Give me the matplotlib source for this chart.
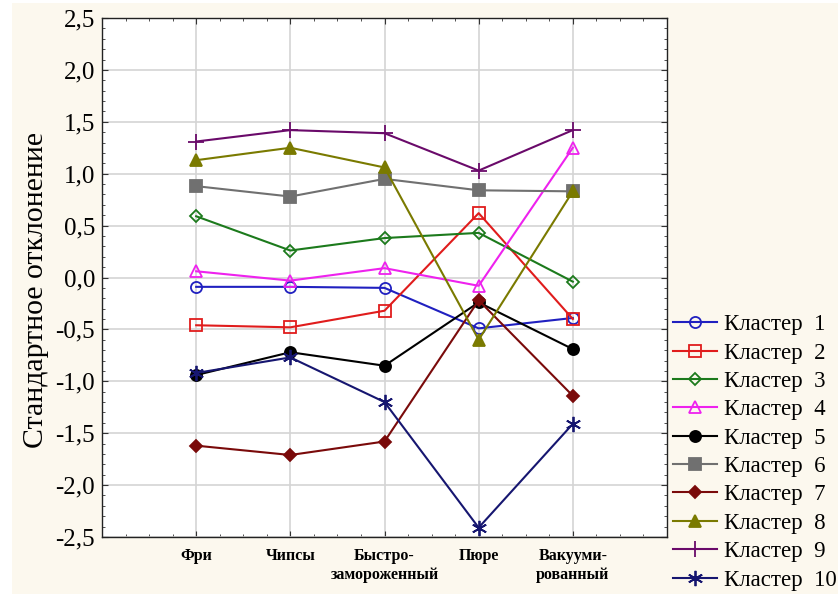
import numpy as np
import matplotlib
matplotlib.use("Agg")
import matplotlib.pyplot as plt
from matplotlib.ticker import MultipleLocator, FixedLocator, FuncFormatter
from matplotlib.patches import Rectangle

categories = ["Фри", "Чипсы", "Быстро-\nзамороженный", "Пюре", "Вакууми-\nрованный"]

cluster_1 = [-0.09, -0.09, -0.10, -0.49, -0.39]
cluster_2 = [-0.46, -0.48, -0.32, 0.62, -0.40]
cluster_3 = [0.59, 0.26, 0.38, 0.43, -0.04]
cluster_4 = [0.06, -0.03, 0.09, -0.08, 1.25]
cluster_5 = [-0.94, -0.72, -0.85, -0.24, -0.69]
cluster_6 = [0.88, 0.78, 0.95, 0.84, 0.83]
cluster_7 = [-1.62, -1.71, -1.58, -0.22, -1.14]
cluster_8 = [1.13, 1.25, 1.06, -0.60, 0.83]
cluster_9 = [1.31, 1.42, 1.39, 1.03, 1.42]
cluster_10 = [-0.92, -0.77, -1.20, -2.41, -1.41]

series = [cluster_1, cluster_2, cluster_3, cluster_4, cluster_5,
          cluster_6, cluster_7, cluster_8, cluster_9, cluster_10]
labels = ["Кластер  %d" % (i + 1) for i in range(10)]

# colour, marker, filled
styles = [
    ("#2020c0", "o", False),
    ("#e01c1c", "s", False),
    ("#1c7a1c", "D", False),
    ("#ee22ee", "^", False),
    ("#000000", "o", True),
    ("#707070", "s", True),
    ("#7a0a0a", "D", True),
    ("#7a7a00", "^", True),
    ("#6a0a6a", "+", True),
    ("#161670", (6, 2, 0), True),
]

cream = "#fcf8ee"
plt.rcParams['font.family'] = ['Liberation Serif', 'DejaVu Serif']

fig = plt.figure(figsize=(8.38, 5.94), dpi=100, facecolor="white")
fig.patches.append(Rectangle((12 / 838, 0), 1, 1 - 3 / 594, transform=fig.transFigure,
                             facecolor=cream, edgecolor="none", zorder=-10))

ax = fig.add_axes([102 / 838, 57 / 594, 565 / 838, 519 / 594])
ax.set_facecolor("white")

x = np.arange(1, len(categories) + 1)
for vals, lab, (col, mk, filled) in zip(series, labels, styles):
    size = 8
    if mk == "D":
        size = 6.5
    if mk in ("+", (6, 2, 0)):
        size = 11
    ax.plot(x, vals, color=col, lw=1.5, marker=mk, markersize=size,
            markerfacecolor=col if filled else "none",
            markeredgecolor=col, markeredgewidth=1.3, label=lab, clip_on=False)

ax.set_xlim(0, 6)
ax.set_ylim(-2.5, 2.5)
ax.xaxis.set_major_locator(FixedLocator(x))
ax.xaxis.set_minor_locator(MultipleLocator(0.25))
ax.yaxis.set_major_locator(MultipleLocator(0.5))
ax.yaxis.set_minor_locator(MultipleLocator(0.1))
ax.yaxis.set_major_formatter(FuncFormatter(lambda v, p: ("%.1f" % v).replace(".", ",")))
ax.set_xticklabels(categories, fontsize=11.5, fontweight="bold", linespacing=1.25)
ax.tick_params(axis="y", labelsize=18, pad=5)
ax.tick_params(which="both", direction="in", top=True, right=True, color="#333333")
ax.tick_params(which="major", length=4, width=0.8)
ax.tick_params(which="minor", length=2.5, width=0.6)
ax.tick_params(axis="x", pad=8)
ax.grid(True, which="major", color="#d4d4d4", lw=1.2)
ax.set_axisbelow(True)
for sp in ax.spines.values():
    sp.set_linewidth(1.0)
    sp.set_color("#222222")

ax.set_ylabel("Стандартное отклонение", fontsize=21.5)
ax.yaxis.set_label_coords(-0.094, 0.476)

fig.legend(loc="upper left", bbox_to_anchor=(664 / 838, 1 - 305 / 594),
           frameon=False, fontsize=16.5, handlelength=1.9, handletextpad=0.3,
           labelspacing=0.32, borderaxespad=0)

fig.savefig("out.png", dpi=100, facecolor=fig.get_facecolor())
